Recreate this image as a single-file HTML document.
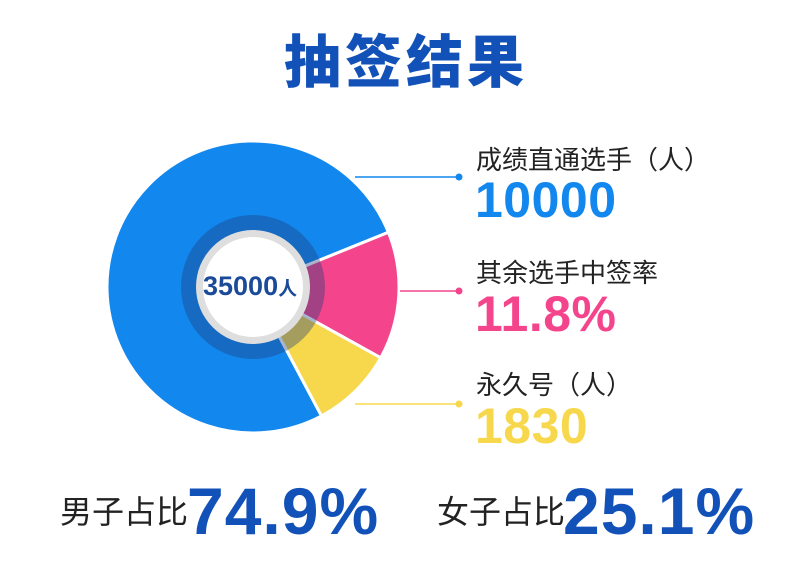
<!DOCTYPE html>
<html><head><meta charset="utf-8"><style>
body{margin:0;background:#fff;width:800px;height:575px;overflow:hidden;position:relative;font-family:"Liberation Sans","Noto Sans CJK SC",sans-serif}
.t{position:absolute;white-space:nowrap;line-height:1}
</style></head><body>
<div class="t" style="left:284px;top:35px;font-size:57px;font-weight:900;color:#1252b8;letter-spacing:4px;">抽签结果</div>
<svg width="800" height="575" style="position:absolute;left:0;top:0">
<g stroke="#fff" stroke-width="3" stroke-linejoin="round">
<path d="M253,287 L321.5,415.9 A146,146 0 1 1 388.4,232.3 Z" fill="#1287ee"/>
<path d="M253,287 L388.4,232.3 A146,146 0 0 1 380.7,357.8 Z" fill="#f4458c"/>
<path d="M253,287 L380.7,357.8 A146,146 0 0 1 321.5,415.9 Z" fill="#f7d84c"/>
</g>
<circle cx="253" cy="287" r="72" fill="rgba(30,60,120,0.38)"/>
<circle cx="253" cy="287" r="57" fill="#dedede"/>
<circle cx="253" cy="287" r="50" fill="#fff"/>
<line x1="355" y1="177" x2="459" y2="177" stroke="#1287ee" stroke-width="1.5"/>
<circle cx="459" cy="177" r="3.5" fill="#1287ee"/>
<line x1="400" y1="291" x2="459" y2="291" stroke="#f4458c" stroke-width="1.5"/>
<circle cx="459" cy="291" r="3.5" fill="#f4458c"/>
<line x1="355" y1="404" x2="459" y2="404" stroke="#f7d84c" stroke-width="1.5"/>
<circle cx="459" cy="404" r="3.5" fill="#f7d84c"/>
</svg>
<div class="t" style="left:203px;top:273px;font-size:27px;font-weight:bold;color:#1a4a98;">35000<span style="font-size:19px">人</span></div>
<div class="t" style="left:476px;top:147px;font-size:26px;color:#222;">成绩直通选手（人）</div>
<div class="t" style="left:475px;top:175px;font-size:50px;font-weight:bold;color:#1287ee;letter-spacing:0.5px;">10000</div>
<div class="t" style="left:476px;top:260px;font-size:26px;color:#222;">其余选手中签率</div>
<div class="t" style="left:475px;top:289px;font-size:50px;font-weight:bold;color:#f4458c;letter-spacing:0.5px;">11.8%</div>
<div class="t" style="left:476px;top:372px;font-size:26px;color:#222;">永久号（人）</div>
<div class="t" style="left:475px;top:401px;font-size:50px;font-weight:bold;color:#f7d84c;letter-spacing:0.5px;">1830</div>
<div class="t" style="left:60px;top:496px;font-size:32px;color:#222;">男子占比</div>
<div class="t" style="left:187px;top:478px;font-size:66px;font-weight:bold;color:#1252b8;letter-spacing:1px;">74.9%</div>
<div class="t" style="left:437px;top:496px;font-size:32px;color:#222;">女子占比</div>
<div class="t" style="left:563px;top:478px;font-size:66px;font-weight:bold;color:#1252b8;letter-spacing:1px;">25.1%</div>
</body></html>
